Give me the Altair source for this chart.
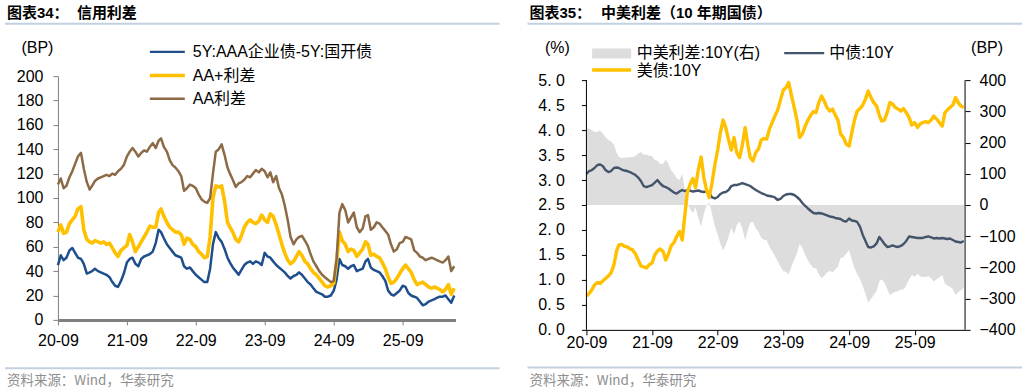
import altair as alt
import pandas as pd

LATIN_CJK = "Liberation Sans, Arial, Noto Sans CJK SC, sans-serif"
SOURCE_FONT = "Noto Sans CJK SC, sans-serif"


def half_month_dates(n, year=2020, month=9):
    """Observation dates on the 1st and 16th of each month."""
    out = []
    for i in range(n):
        out.append(pd.Timestamp(year=year, month=month, day=1 if i % 2 == 0 else 16))
        if i % 2 == 1:
            month += 1
            if month > 12:
                month, year = 1, year + 1
    return out


# ---------------- credit spreads (bp) ----------------
credit_names = ["5Y:AAA企业债-5Y:国开债", "AA+利差", "AA利差"]
credit_colors = ["#1F4E8C", "#FFC000", "#8C6A45"]
credit_widths = [2.5, 3.6, 2.5]

aaa_cdb_5y = [45, 53, 49, 51, 57, 59, 55, 51, 50, 46,
              38, 39, 40, 42, 40, 39, 38, 37, 35, 31,
              28, 27, 32, 38, 47, 50, 51, 46, 44, 50,
              52, 53, 54, 56, 63, 74, 72, 67, 62, 59,
              56, 53, 52, 51, 44, 42, 43, 40, 37, 35,
              33, 31, 31, 42, 62, 72, 67, 64, 58, 51,
              47, 43, 40, 37, 41, 45, 47, 48, 46, 48,
              47, 45, 55, 52, 51, 48, 45, 43, 41, 39,
              36, 34, 36, 37, 39, 37, 34, 31, 29, 26,
              23, 22, 21, 19, 19, 20, 24, 33, 50, 45,
              44, 42, 44, 45, 40, 41, 42, 48, 50, 43,
              41, 40, 39, 36, 32, 24, 21, 20, 22, 24,
              28, 27, 22, 20, 19, 18, 15, 12, 13, 15,
              16, 17, 18, 19, 19, 20, 17, 14, 20]

aa_plus = [72, 78, 71, 72, 79, 82, 85, 91, 93, 74,
           66, 64, 63, 65, 64, 63, 64, 62, 63, 59,
           55, 52, 57, 59, 61, 70, 64, 56, 60, 64,
           68, 72, 77, 76, 76, 88, 91, 85, 80, 76,
           74, 72, 72, 70, 62, 67, 66, 62, 60, 56,
           54, 51, 52, 68, 100, 110, 109, 110, 97, 80,
           76, 72, 66, 64, 69, 76, 80, 82, 80, 79,
           81, 86, 82, 80, 87, 85, 78, 70, 62, 55,
           49, 46, 48, 52, 56, 53, 48, 46, 42, 39,
           37, 34, 31, 28, 27, 28, 30, 48, 72, 65,
           62, 56, 58, 57, 52, 55, 58, 64, 62, 53,
           54, 52, 51, 47, 42, 35, 30, 31, 34, 38,
           42, 45, 42, 39, 33, 29, 30, 31, 29, 27,
           26, 27, 26, 25, 23, 25, 29, 21, 26]

aa = [111, 116, 108, 110, 117, 122, 128, 134, 137, 124,
      113, 107, 110, 114, 116, 117, 118, 119, 118, 120,
      119, 122, 124, 127, 134, 138, 141, 138, 134, 137,
      139, 138, 142, 145, 141, 147, 149, 142, 138, 131,
      127, 125, 122, 118, 106, 108, 111, 110, 108, 103,
      99, 97, 96, 100, 120, 138, 140, 144, 135, 125,
      120, 115, 109, 112, 113, 115, 118, 117, 120, 123,
      121, 124, 122, 117, 121, 113, 118, 108, 103, 94,
      82, 68, 62, 66, 68, 69, 65, 61, 54, 48,
      44, 40, 37, 35, 33, 31, 32, 50, 88, 95,
      90, 80, 84, 88, 76, 72, 75, 85, 86, 74,
      76, 80, 79, 76, 73, 70, 62, 56, 58, 63,
      64, 68, 67, 66, 57, 55, 52, 51, 49, 50,
      51, 50, 49, 48, 47, 49, 52, 40, 44]

# ---------------- 10Y government bond yields (%) ----------------
rate_names = ["中债:10Y", "美债:10Y"]
rate_colors = ["#44546A", "#FFC000"]

cgb_10y = [3.12, 3.18, 3.20, 3.24, 3.30, 3.31, 3.28, 3.20, 3.16, 3.18,
           3.24, 3.25, 3.24, 3.21, 3.19, 3.18, 3.16, 3.13, 3.10, 3.05,
           2.98, 2.88, 2.86, 2.88, 2.90, 2.95, 3.00, 2.93, 2.88, 2.86,
           2.83, 2.79, 2.75, 2.73, 2.77, 2.80, 2.78, 2.80, 2.79, 2.77,
           2.78, 2.79, 2.77, 2.76, 2.78, 2.74, 2.65, 2.63, 2.66, 2.72,
           2.75, 2.76, 2.80, 2.88, 2.90, 2.90, 2.92, 2.94, 2.92, 2.90,
           2.88, 2.84, 2.80, 2.77, 2.74, 2.72, 2.69, 2.68, 2.67, 2.65,
           2.60, 2.62, 2.68, 2.71, 2.72, 2.72, 2.70, 2.66, 2.61, 2.54,
           2.48, 2.43, 2.38, 2.34, 2.33, 2.34, 2.33, 2.31, 2.29, 2.27,
           2.26, 2.24, 2.23, 2.22, 2.18, 2.17, 2.23, 2.19, 2.18, 2.16,
           2.06, 1.90, 1.78, 1.66, 1.65, 1.67, 1.73, 1.86, 1.80, 1.72,
           1.66, 1.67, 1.69, 1.67, 1.66, 1.68, 1.72, 1.78, 1.87, 1.86,
           1.85, 1.84, 1.84, 1.84, 1.86, 1.87, 1.85, 1.83, 1.84, 1.83,
           1.84, 1.83, 1.82, 1.83, 1.80, 1.77, 1.76, 1.75, 1.78]

ust_10y = [0.68, 0.73, 0.80, 0.90, 0.95, 0.93, 0.98, 1.03, 1.08, 1.14,
           1.30, 1.58, 1.70, 1.71, 1.67, 1.66, 1.62, 1.60, 1.52, 1.40,
           1.28, 1.26, 1.24, 1.30, 1.34, 1.50, 1.58, 1.62, 1.57, 1.40,
           1.52, 1.68, 1.75, 1.87, 1.97, 1.80, 2.25, 2.75, 2.92, 3.03,
           2.85, 3.20, 3.46, 3.05, 2.80, 2.65, 2.95, 3.30, 3.60, 3.95,
           4.20, 4.05, 3.80, 3.60, 3.85, 3.55, 3.45, 3.70, 4.05, 3.70,
           3.45, 3.38, 3.55, 3.62, 3.80, 3.83, 3.82, 4.02, 4.15, 4.28,
           4.40, 4.60, 4.80, 4.85, 4.95, 4.70, 4.45, 4.20, 3.85, 3.92,
           4.08, 4.20, 4.30, 4.37, 4.35, 4.55, 4.68, 4.58, 4.45, 4.38,
           4.42, 4.30, 4.20, 3.92, 3.85, 3.72, 3.68, 3.95, 4.20, 4.38,
           4.43, 4.50, 4.62, 4.78, 4.65, 4.55, 4.48, 4.30, 4.18, 4.20,
           4.35, 4.55, 4.52, 4.45, 4.42, 4.38, 4.43, 4.35, 4.25, 4.10,
           4.15, 4.05, 4.12, 4.15, 4.17, 4.15, 4.20, 4.28, 4.22, 4.15,
           4.08, 4.35, 4.40, 4.45, 4.50, 4.65, 4.55, 4.48, 4.45]

dates = half_month_dates(len(aa))

X_DOMAIN = [alt.DateTime(year=2020, month=9, date=1), alt.DateTime(year=2026, month=6, date=8)]
X_TICKS = [alt.DateTime(year=y, month=9, date=1) for y in range(2020, 2026)]

one_row = pd.DataFrame({"k": [0]})


def x_axis(domain_color, domain_width, tick_color, label_pad):
    return alt.X(
        "date:T", title=None, scale=alt.Scale(domain=X_DOMAIN),
        axis=alt.Axis(values=X_TICKS, format="%y-%m", labelFont=LATIN_CJK, labelFontSize=16,
                      labelColor="#000000", labelPadding=label_pad, labelFlush=False,
                      labelOverlap=False, domainColor=domain_color, domainWidth=domain_width,
                      tickColor=tick_color, tickSize=5, tickWidth=1, grid=False),
    )


def text_at(txt, x, y, size=16, color="#000000", weight="normal", align="left", font=LATIN_CJK):
    return alt.Chart(pd.DataFrame({"t": [txt]})).mark_text(
        align=align, baseline="middle", fontSize=size, fontWeight=weight, color=color, font=font
    ).encode(x=alt.value(x), y=alt.value(y), text="t:N")


def hline(x1, x2, y, color, width):
    return alt.Chart(one_row).mark_rule(color=color, strokeWidth=width).encode(
        x=alt.value(x1), x2=alt.value(x2), y=alt.value(y))


def vline(x, y1, y2, color, width):
    return alt.Chart(one_row).mark_rule(color=color, strokeWidth=width).encode(
        x=alt.value(x), y=alt.value(y1), y2=alt.value(y2))


def box(x1, x2, y1, y2, color, opacity=1.0):
    return alt.Chart(one_row).mark_rect(color=color, opacity=opacity).encode(
        x=alt.value(x1), x2=alt.value(x2), y=alt.value(y1), y2=alt.value(y2))


RULE_BLUE = "#C3D0DF"
SOURCE_GREY = "#8E8E8E"

# ---------------- left panel: credit spreads ----------------
LW, LH = 398, 244
credit = pd.DataFrame({"date": dates, credit_names[0]: aaa_cdb_5y,
                       credit_names[1]: aa_plus, credit_names[2]: aa})
credit_long = credit.melt("date", var_name="series", value_name="bp")

y_bp = alt.Y("bp:Q", title=None, scale=alt.Scale(domain=[0, 200], nice=False),
             axis=alt.Axis(values=list(range(0, 201, 20)), labelFont=LATIN_CJK, labelFontSize=16,
                           labelColor="#000000", labelPadding=10, domainColor="#808080",
                           domainWidth=1, tickColor="#808080", tickSize=5, grid=False))
x_left = x_axis("#808080", 3, "#808080", 8)

credit_lines = [
    alt.Chart(credit_long).transform_filter(alt.FieldEqualPredicate(field="series", equal=name))
    .mark_line(color=col, strokeWidth=w, strokeJoin="round").encode(x=x_left, y=y_bp)
    for name, col, w in zip(credit_names, credit_colors, credit_widths)
]

legend_rows_left = [-24.3, -0.5, 22.7]
left_legend = []
for name, col, w, yy in zip(credit_names, credit_colors, [2.2, 3.5, 2.5], legend_rows_left):
    left_legend.append(hline(92, 127, yy, col, w))
    left_legend.append(text_at(name, 135, yy))

left = alt.layer(
    box(-58, -57, -76, 316, "#FFFFFF", 0.0),
    *credit_lines,
    *left_legend,
    text_at("图表34：", -51, -63, size=15, weight="bold"),
    text_at("信用利差", 19, -63, size=15, weight="bold"),
    hline(-53, 442, -52.5, RULE_BLUE, 2),
    text_at("(BP)", -20.5, -28, align="center"),
    hline(-53, 442, 292.3, RULE_BLUE, 2),
    text_at("资料来源：Wind，华泰研究", -51, 305, size=13.5, color=SOURCE_GREY, font=SOURCE_FONT),
).properties(width=LW, height=LH)

# ---------------- right panel: China-US 10Y spread ----------------
RW, RH = 379, 254
rates = pd.DataFrame({"date": dates, "cn": cgb_10y, "us": ust_10y})
rates["spread"] = (rates["cn"] - rates["us"]) * 100  # China minus US, bp
rates_long = rates.melt("date", value_vars=["cn", "us"], var_name="series", value_name="pct")

x_right = x_axis("#000000", 1, "#000000", 0)

spread_area = alt.Chart(rates).mark_area(color="#DDDDDD", opacity=1).encode(
    x=x_right,
    y=alt.Y("spread:Q", title=None, scale=alt.Scale(domain=[-400, 412.8], nice=False, zero=False),
            axis=alt.Axis(orient="right", values=list(range(-400, 401, 100)), format="d",
                          labelFont=LATIN_CJK, labelFontSize=16, labelColor="#000000",
                          labelPadding=9, domain=False, tickColor="#000000", tickSize=5,
                          grid=False)),
    y2=alt.datum(0),
)

y_pct = alt.Y("pct:Q", title=None, scale=alt.Scale(domain=[0, 5.08], nice=False, zero=False),
              axis=alt.Axis(orient="left", values=[i / 2 for i in range(11)],
                            labelExpr="replace(format(datum.value, '.1f'), '.', '. ')",
                            labelFont=LATIN_CJK, labelFontSize=16, labelColor="#000000",
                            labelPadding=17, domain=False, tickColor="#000000", tickSize=5,
                            grid=False))

cn_line = alt.Chart(rates_long).transform_filter(
    alt.FieldEqualPredicate(field="series", equal="cn")
).mark_line(color=rate_colors[0], strokeWidth=2.4, strokeJoin="round").encode(x=x_right, y=y_pct)
us_line = alt.Chart(rates_long).transform_filter(
    alt.FieldEqualPredicate(field="series", equal="us")
).mark_line(color=rate_colors[1], strokeWidth=3.4, strokeJoin="round").encode(x=x_right, y=y_pct)

right = alt.layer(
    spread_area,
    alt.layer(cn_line, us_line),
    vline(0, 4, RH, "#000000", 1),
    vline(RW, 4, RH, "#000000", 1),
    box(442, 443, -76, 316, "#FFFFFF", 0.0),
    # legend
    box(5.7, 44.7, -27.7, -17.7, "#DDDDDD"),
    text_at("中美利差:10Y(右)", 50.3, -22.7),
    hline(198, 238, -23, rate_colors[0], 2.2),
    text_at(rate_names[0], 243, -23),
    hline(5.7, 44.7, -6, rate_colors[1], 3.5),
    text_at(rate_names[1], 50.3, -5.5),
    # titles and notes
    text_at("图表35：", -57, -63, size=15, weight="bold"),
    text_at("中美利差（10 年期国债）", 14.7, -63, size=15, weight="bold"),
    hline(-59, 436, -52.5, RULE_BLUE, 2),
    text_at("(%)", -29, -28.3, align="center"),
    text_at("(BP)", 401, -28, align="center"),
    hline(-59, 436, 291.7, RULE_BLUE, 2),
    text_at("资料来源：Wind，华泰研究", -57, 305, size=13.5, color=SOURCE_GREY, font=SOURCE_FONT),
).resolve_scale(y="independent").properties(width=RW, height=RH)

chart = alt.hconcat(left, right, spacing=131, bounds="flush").properties(
    padding=0
).configure_view(stroke=None)

chart.save("out.html", embed_options={"renderer": "svg", "actions": False})
